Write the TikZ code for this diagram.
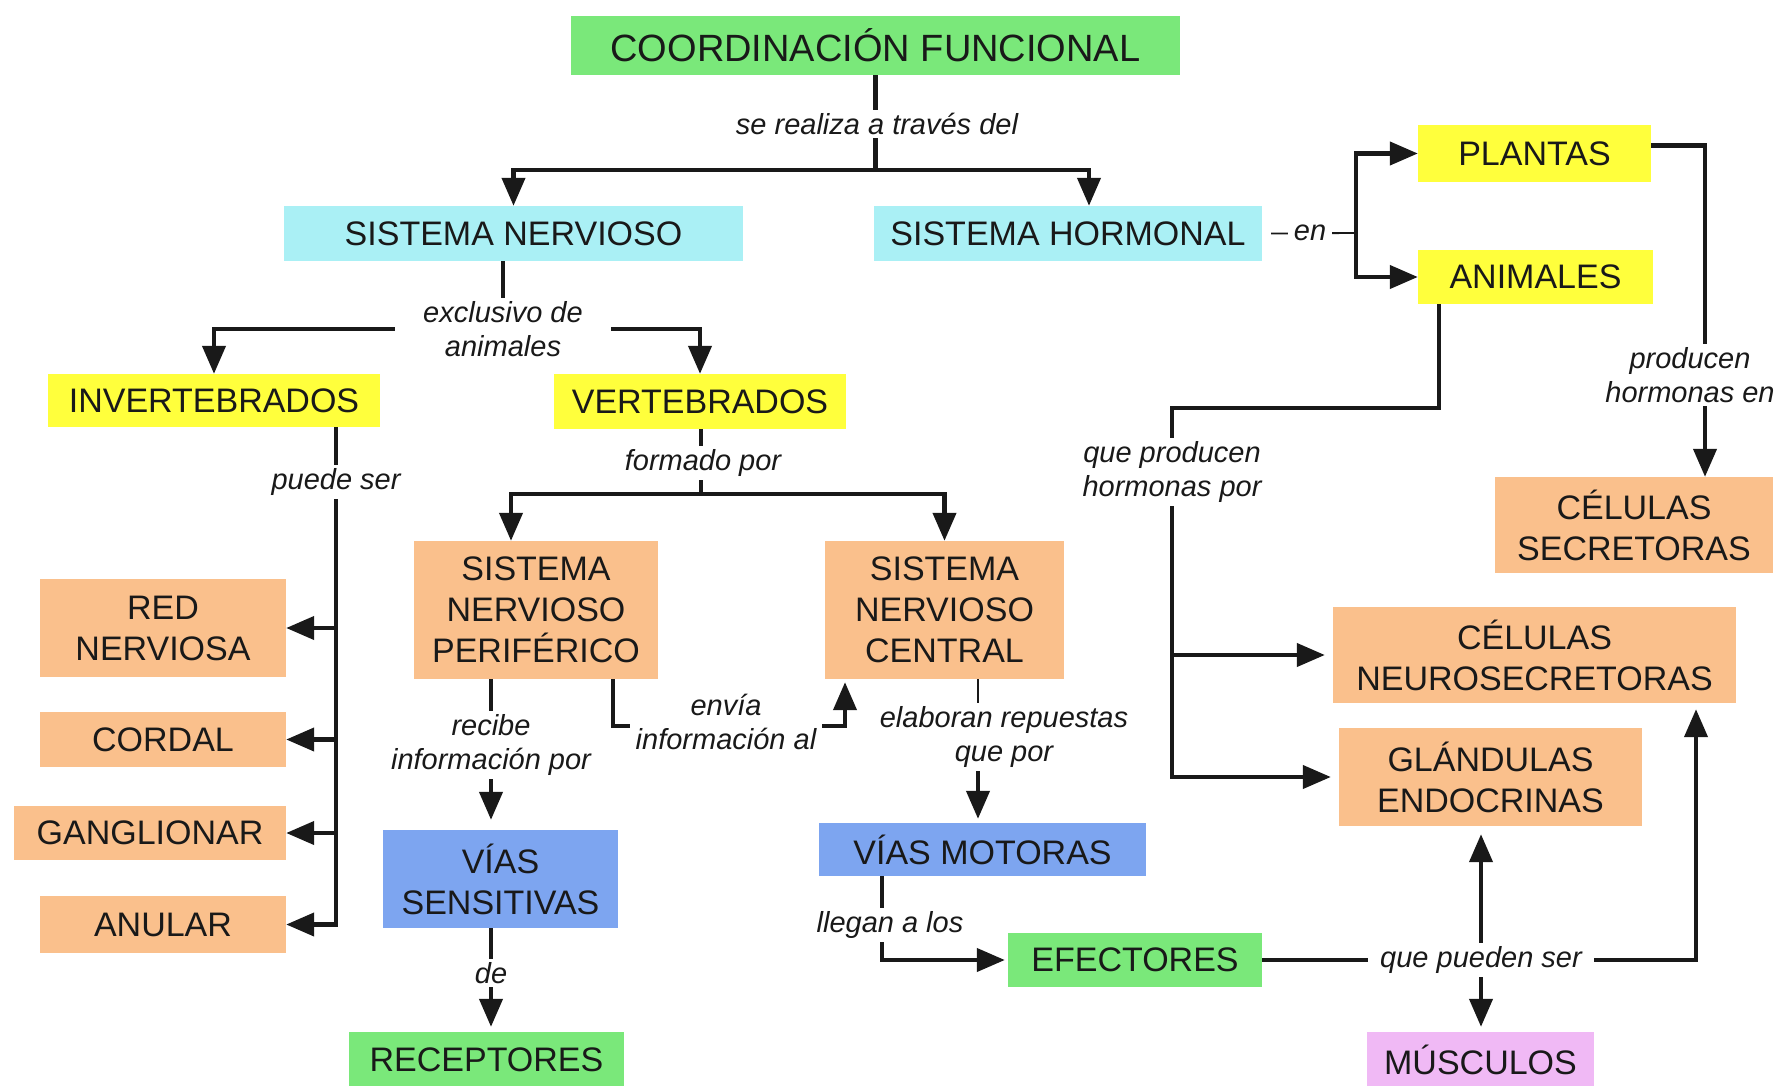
\documentclass[tikz,border=0pt]{standalone}
\usepackage{fontspec}
\setmainfont{Liberation Sans}
\usetikzlibrary{arrows.meta,calc}
\pgfdeclarelayer{bg}
\pgfdeclarelayer{lines}
\pgfsetlayers{bg,lines,main}

\definecolor{cgreen}{RGB}{122,232,122}
\definecolor{ccyan}{RGB}{170,240,245}
\definecolor{cyellow}{RGB}{255,255,60}
\definecolor{corange}{RGB}{250,192,140}
\definecolor{cblue}{RGB}{125,165,240}
\definecolor{cpink}{RGB}{240,185,245}
\definecolor{ink}{RGB}{25,25,25}

\newcommand\ttlfont{\fontsize{38}{44}\selectfont}
\newcommand\bxfont{\fontsize{34}{41}\selectfont}
\newcommand\lbfont{\fontsize{29}{34}\selectfont\itshape}

\begin{document}
\begin{tikzpicture}[x=1pt,y=-1pt,
  box/.style={inner sep=0pt, align=center, text=ink, font=\bxfont},
  sz/.style 2 args={minimum width=#1pt, minimum height=#2pt},
  lbl/.style={fill=white, inner xsep=6pt, inner ysep=3pt, align=center, text=ink, font=\lbfont},
  conn/.style={draw=ink, line width=4.2pt, line join=miter},
  thinc/.style={draw=ink, line width=1.8pt},
  arr/.style={conn, -{Triangle[length=28pt,width=23pt]}}]

\useasboundingbox (0,0) rectangle (1779,1086);
\begin{pgfonlayer}{bg}
  \fill[white] (0,0) rectangle (1779,1086);
\end{pgfonlayer}

% concept boxes
\node[box,fill=cgreen,sz={609}{59},font=\ttlfont] (coord) at (875.5,45.5) {COORDINACIÓN FUNCIONAL};
\node[box,fill=ccyan,sz={459}{55}] (sn) at (513.5,233.5) {SISTEMA NERVIOSO};
\node[box,fill=ccyan,sz={388}{55}] (sh) at (1068,233.5) {SISTEMA HORMONAL};
\node[box,fill=cyellow,sz={233}{57}] (pl) at (1534.5,153.5) {PLANTAS};
\node[box,fill=cyellow,sz={235}{54}] (an) at (1535.5,277) {ANIMALES};
\node[box,fill=cyellow,sz={332}{53}] (inv) at (214,400.5) {INVERTEBRADOS};
\node[box,fill=cyellow,sz={292}{55}] (vert) at (700,401.5) {VERTEBRADOS};
\node[box,fill=corange,sz={246}{98}] (red) at (163,628) {RED\\NERVIOSA};
\node[box,fill=corange,sz={246}{55}] (cor) at (163,739.5) {CORDAL};
\node[box,fill=corange,sz={272}{54}] (gan) at (150,833) {GANGLIONAR};
\node[box,fill=corange,sz={246}{57}] (anu) at (163,924.5) {ANULAR};
\node[box,fill=corange,sz={244}{138}] (snp) at (536,610) {SISTEMA\\NERVIOSO\\PERIFÉRICO};
\node[box,fill=corange,sz={239}{138}] (snc) at (944.5,610) {SISTEMA\\NERVIOSO\\CENTRAL};
\node[box,fill=cblue,sz={235}{98}] (vs) at (500.5,879) {VÍAS\\SENSITIVAS};
\node[box,fill=cgreen,sz={275}{56}] (rec) at (486.5,1060) {RECEPTORES};
\node[box,fill=cblue,sz={327}{53}] (vm) at (982.5,849.5) {VÍAS MOTORAS};
\node[box,fill=cgreen,sz={254}{54}] (ef) at (1135,960) {EFECTORES};
\node[box,fill=cpink,sz={227}{56}] (mus) at (1480.5,1060) {MÚSCULOS};
\node[box,fill=corange,sz={278}{96}] (cs) at (1634,525) {CÉLULAS\\SECRETORAS};
\node[box,fill=corange,sz={403}{96}] (cn) at (1534.5,655) {CÉLULAS\\NEUROSECRETORAS};
\node[box,fill=corange,sz={303}{98}] (ge) at (1490.5,777) {GLÁNDULAS\\ENDOCRINAS};

% linking phrases
\node[lbl] (l1) at (877,124) {se realiza a través del};
\node[lbl] (len) at (1310,233) {en};
\node[lbl] (lpr) at (1690,375) {producen\\hormonas en};
\node[lbl] (lqp) at (1172,472) {que producen\\hormonas por};
\node[lbl,inner xsep=28pt] (lex) at (503,329) {exclusivo de\\animales};
\node[lbl] (lps) at (336,482) {puede ser};
\node[lbl] (lfo) at (703,463) {formado por};
\node[lbl] (lre) at (491,745) {recibe\\información por};
\node[lbl] (lenv) at (726,722) {envía\\información al};
\node[lbl] (lel) at (1004,737) {elaboran repuestas\\que por};
\node[lbl] (lde) at (491,973) {de};
\node[lbl] (lll) at (890,925) {llegan a los};
\node[lbl,inner xsep=12pt] (lq) at (1481,960) {que pueden ser};

% helper points
\coordinate (j1) at (875.5,170);
\coordinate (j2) at (1356,233);
\coordinate (xpr) at (1705,0);
\coordinate (xa) at (1439,408);
\coordinate (xb) at (1172,408);
\coordinate (xi) at (336,0);
\coordinate (j7) at (701,494);
\coordinate (xe1) at (613,0);
\coordinate (xe2) at (845,726);
\coordinate (xel) at (978,0);
\coordinate (xvm) at (882,0);
\coordinate (xcn) at (1696,0);

\begin{pgfonlayer}{lines}
  % top level
  \draw[conn] (coord.south) -- (j1);
  \draw[arr] (j1) -| (sn.north);
  \draw[arr] (j1) -| ($(sh.north)+(21,0)$);
  % hormonal system
  \draw[thinc] ($(sh.east)+(9,0)$) -- (j2);
  \draw[arr] (j2) |- (pl.west);
  \draw[arr] (j2) |- (an.west);
  \draw[arr] ($(pl.east)+(0,-8)$) -| (xpr |- cs.north);
  \draw[arr,shorten >=8pt] (an.south -| xa) -- (xa) -- (xb) |- (ge.west);
  \draw[arr,shorten >=8pt] (xb |- cn.west) -- (cn.west);
  % nervous system
  \draw[conn] (sn.south -| lex) -- (lex.center);
  \draw[arr] (lex.center) -| (inv.north);
  \draw[arr] (lex.center) -| (vert.north);
  \draw[arr] (inv.south -| xi) |- (anu.east);
  \draw[arr] (xi |- red.east) -- (red.east);
  \draw[arr] (xi |- cor.east) -- (cor.east);
  \draw[arr] (xi |- gan.east) -- (gan.east);
  \draw[conn] (vert.south -| j7) -- (j7);
  \draw[arr] (j7) -| ($(snp.north)+(-25,0)$);
  \draw[arr] (j7) -| (snc.north);
  \draw[conn] (snp.south -| lre) -- (lre.north);
  \draw[arr,shorten >=10pt] (lre.south) -- (lre.south |- vs.north);
  \draw[arr,shorten >=3pt] (snp.south -| xe1) |- (xe2) -- (xe2 |- snc.south);
  \draw[thinc] (snc.south -| xel) -- (lel.north -| xel);
  \draw[arr,shorten >=4pt] (lel.south -| xel) -- (vm.north -| xel);
  \draw[conn] (vs.south -| lde) -- (lde.north);
  \draw[arr,shorten >=5pt] (lde.south) -- (lde.south |- rec.north);
  \draw[arr,shorten >=3pt] (vm.south -| xvm) |- (ef.west);
  % effectors
  \draw[conn] (ef.east) -- (lq.west);
  \draw[arr,shorten >=6pt] (lq.east) -| (xcn |- cn.south);
  \draw[arr,shorten >=8pt] (lq.north) -- (lq.north |- ge.south);
  \draw[arr,shorten >=5pt] (lq.south) -- (lq.south |- mus.north);
\end{pgfonlayer}
\end{tikzpicture}
\end{document}
